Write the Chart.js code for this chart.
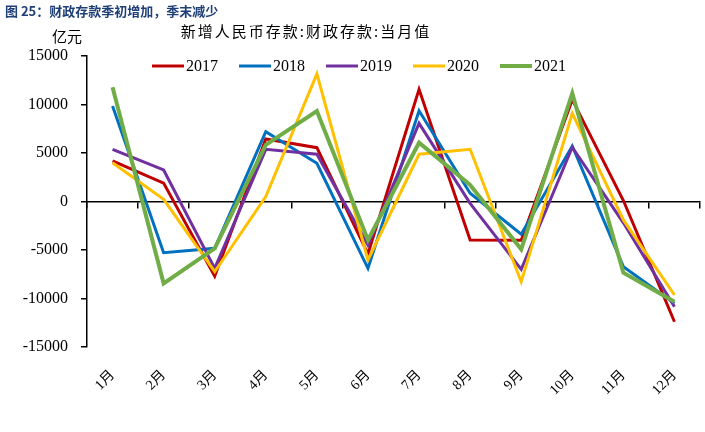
<!DOCTYPE html>
<html>
<head>
<meta charset="utf-8">
<script src="https://cdn.jsdelivr.net/npm/chart.js@4/dist/chart.umd.min.js"></script>
<style>
  body { margin: 0; background: #fff; }
  canvas { display: block; }
</style>
</head>
<body>
<canvas id="myLineChart" width="705" height="432"></canvas>
<script>
// Data (unit: 亿元)
const months = ["1月", "2月", "3月", "4月", "5月", "6月", "7月", "8月", "9月", "10月", "11月", "12月"];
const years = ["2017", "2018", "2019", "2020", "2021"];
const values2017 = [4200, 1900, -7700, 6450, 5550, -5400, 11570, -3970, -4000, 10500, 100, -12400];
const values2018 = [9850, -5280, -4830, 7200, 3940, -6890, 9360, 850, -3380, 5720, -6720, -10500];
const values2019 = [5380, 3250, -6890, 5380, 4870, -4490, 8060, -190, -6990, 5590, -2200, -10850];
const values2020 = [4000, 230, -7240, 500, 13150, -6030, 4870, 5380, -8270, 9090, -1900, -9640];
const values2021 = [11770, -8440, -4830, 5830, 9330, -3970, 6060, 1700, -4930, 11150, -7340, -10330];
const yTicks = [-15000, -10000, -5000, 0, 5000, 10000, 15000];

const seriesValues = [values2017, values2018, values2019, values2020, values2021];
const seriesColors = ["#C00000", "#0070C0", "#7030A0", "#FFC000", "#70AD47"];
const seriesWidths = [3, 3, 3, 3, 4];

const serif = "'Liberation Serif', 'Noto Sans CJK SC', serif";
const cjk = "'Noto Sans CJK SC', sans-serif";

// build datasets from the arrays above
const datasets = years.map((year, i) => ({
  label: year,
  data: seriesValues[i],
  borderColor: seriesColors[i],
  backgroundColor: seriesColors[i],
  borderWidth: seriesWidths[i],
  pointRadius: 0,
  tension: 0,
  order: years.length - i, // later years drawn on top
}));

// texts and legend drawn on top of the chart
const decorPlugin = {
  id: "decor",
  afterDraw: (chart) => {
    const ctx = chart.ctx;
    ctx.save();
    // figure caption
    ctx.fillStyle = "#1F3F77";
    ctx.font = "bold 13px " + cjk;
    ctx.textBaseline = "middle";
    ctx.textAlign = "left";
    ctx.fillText("图 25：财政存款季初增加，季末减少", 5, 11);

    // unit
    ctx.fillStyle = "#000";
    ctx.font = "15px " + cjk;
    ctx.fillText("亿元", 52, 36);

    // chart title
    ctx.font = "15px " + cjk;
    ctx.letterSpacing = "2px";
    ctx.textAlign = "center";
    ctx.fillText("新增人民币存款:财政存款:当月值", 306, 31);
    ctx.letterSpacing = "0px";

    // legend
    ctx.textAlign = "left";
    ctx.font = "16px " + serif;
    years.forEach((year, i) => {
      const x0 = 152 + i * 87;
      ctx.strokeStyle = seriesColors[i];
      ctx.lineWidth = seriesWidths[i];
      ctx.beginPath();
      ctx.moveTo(x0, 66);
      ctx.lineTo(x0 + 32, 66);
      ctx.stroke();
      ctx.fillStyle = "#000";
      ctx.fillText(year, x0 + 34, 67);
    });
    ctx.restore();
  },
};

new Chart(document.querySelector("#myLineChart"), {
  type: "line",
  data: { labels: months, datasets: datasets },
  plugins: [decorPlugin],
  options: {
    responsive: false,
    animation: false,
    layout: { padding: { top: 56, right: 5, bottom: 0, left: 0 } },
    plugins: {
      legend: { display: false },
      tooltip: { enabled: false },
    },
    scales: {
      x: {
        type: "category",
        position: "bottom",
        offset: true,
        grid: { display: false },
        border: { display: false },
        ticks: {
          color: "#000",
          font: { family: serif, size: 14 },
          minRotation: 45,
          maxRotation: 45,
          padding: 12,
        },
        afterFit: (scale) => {
          scale.height = 85;
        },
      },
      // zero line with tick marks between the months
      x0: {
        type: "category",
        labels: months,
        position: { y: 0 },
        offset: true,
        grid: {
          drawOnChartArea: false,
          drawTicks: true,
          tickLength: 6,
          color: "#000",
          lineWidth: 1.5,
          offset: true,
        },
        border: { display: true, color: "#000", width: 1.5 },
        ticks: { display: false },
      },
      y: {
        min: -15000,
        max: 15000,
        afterBuildTicks: (scale) => {
          scale.ticks = yTicks.map((v) => ({ value: v }));
        },
        grid: {
          drawOnChartArea: false,
          drawTicks: true,
          tickLength: 6,
          color: "#000",
          lineWidth: 1.5,
        },
        border: { display: true, color: "#000", width: 1.5 },
        ticks: {
          color: "#000",
          font: { family: serif, size: 16 },
          padding: 13,
          callback: (value) => String(value), // plain numbers, no thousands separator
        },
        afterFit: (scale) => {
          scale.width = 87;
        },
      },
    },
  },
});
</script>
</body>
</html>
